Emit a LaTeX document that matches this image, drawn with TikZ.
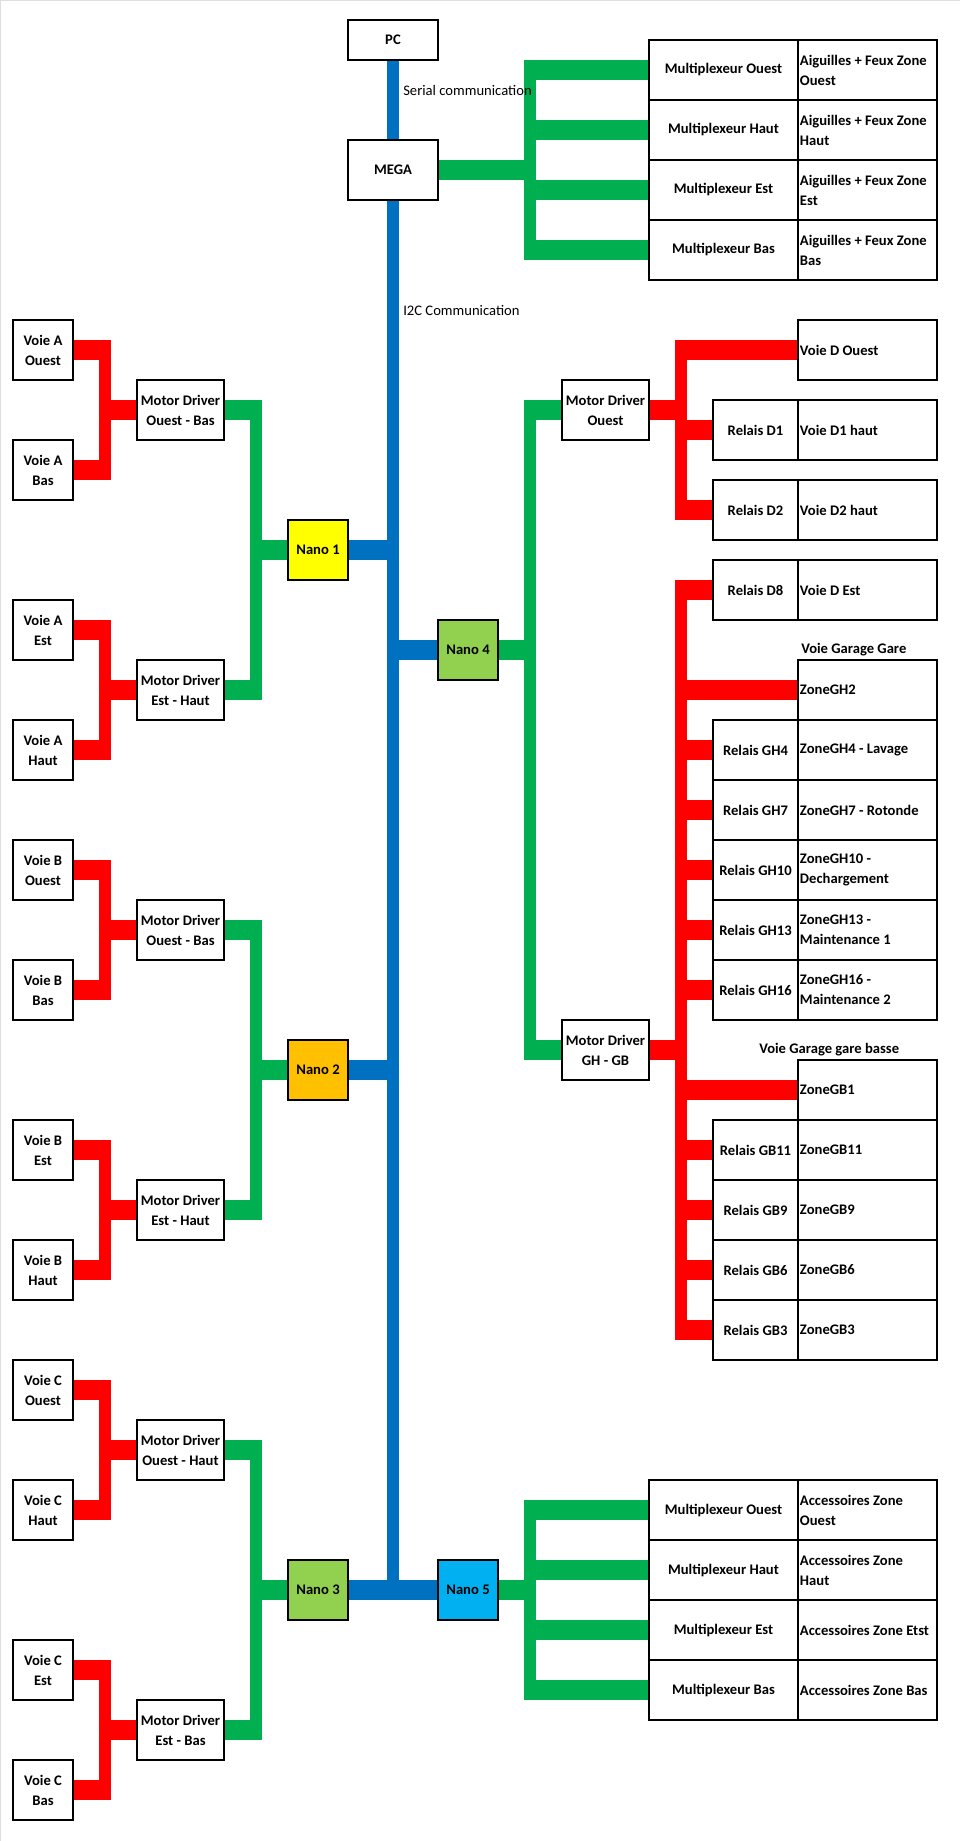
\documentclass[tikz,border=0pt]{standalone}
\usepackage{fontspec}
\setmainfont{Carlito}
\usepackage{tikz}
\usetikzlibrary{backgrounds}
\definecolor{xlblue}{RGB}{0,112,192}
\definecolor{xlgreen}{RGB}{0,176,80}
\definecolor{xlred}{RGB}{255,0,0}
\definecolor{xlyellow}{RGB}{255,255,0}
\definecolor{xlorange}{RGB}{255,192,0}
\definecolor{xllime}{RGB}{146,208,80}
\definecolor{xlcyan}{RGB}{0,176,240}
\tikzset{
  bxW/.style={draw=black, fill=white, minimum width=#1, minimum height=1.5cm,
              align=center, inner sep=2pt, line width=0.8pt},
  bxN/.style={draw=black, fill=#1, minimum width=1.5cm, minimum height=1.5cm,
              align=center, inner sep=2pt, line width=0.8pt},
  bxZ/.style={draw=black, fill=white, text width=3.375cm, inner xsep=0.05cm,
              minimum height=1.5cm, align=flush left, line width=0.8pt},
  lbl/.style={anchor=west, inner sep=0pt},
  rh/.style={draw=xlred,   line width=0.5cm},
  rv/.style={draw=xlred,   line width=0.3cm},
  gh/.style={draw=xlgreen, line width=0.5cm},
  gv/.style={draw=xlgreen, line width=0.3cm},
  bh/.style={draw=xlblue,  line width=0.5cm},
  bv/.style={draw=xlblue,  line width=0.28cm},
  tobus/.style={shorten >=-0.15cm},
  frombus/.style={shorten <=-0.15cm},
  busrun/.style={shorten <=-0.25cm, shorten >=-0.25cm},
}

\begin{document}
\begin{tikzpicture}[x=0.025cm, y=-0.025cm, font=\fontsize{10.4}{14.2}\selectfont\bfseries]
  \useasboundingbox (0,0) rectangle (960,1841);
  \draw[gray!25, line width=0.05cm] (0,1841) -- (0,0) -- (960,0);

  % ── bus lines ───────────────────────────────────────────
  \coordinate (rbL) at (105,0);
  \coordinate (gbL) at (256,0);
  \coordinate (gbR) at (530,0);
  \coordinate (rbR) at (681,0);

  % ── PC / MEGA ───────────────────────────────────────────
  \node[bxW=2.25cm, minimum height=1cm] (pc) at (393,40) {PC};
  \node[bxW=2.25cm] (mega) at (393,170) {MEGA};
  \coordinate (trunk) at (pc.south);
  \node[lbl, font=\fontsize{10.4}{14.2}\selectfont] (serial) at (403,90) {Serial communication};
  \node[lbl, font=\fontsize{10.4}{14.2}\selectfont] (i2c) at (403,310) {I2C Communication};

  % ── multiplexeurs du haut ───────────────────────────────
  \foreach \i/\yy/\side in {1/70/Ouest,2/130/Haut,3/190/Est,4/250/Bas} {
    \node[bxW=3.725cm] (muxT\i) at (723.5,\yy) {Multiplexeur \side};
    \node[bxZ] (aigT\i) at (867.5,\yy) {Aiguilles + Feux Zone\\\side};
    \begin{scope}[on background layer]
      \draw[gh, frombus] (muxT\i.west -| gbR) -- (muxT\i.west);
    \end{scope}
  }
  \begin{scope}[on background layer]
    \draw[bv, shorten >=-0.25cm] (pc.south) -- (pc.south |- 0,1590);
    \draw[gh, tobus] (mega.east) -- (mega.east -| gbR);
    \draw[gv, busrun] (muxT1.west -| gbR) -- (muxT4.west -| gbR);
  \end{scope}

  % ── voies A, B, C (gauche) ──────────────────────────────
  \foreach \g/\n/\yo/\fc/\pb/\mo/\pd/\me in
      {A/1/320/xlyellow/Bas/Ouest - Bas/Haut/Est - Haut,
       B/2/840/xlorange/Bas/Ouest - Bas/Haut/Est - Haut,
       C/3/1360/xllime/Haut/Ouest - Haut/Bas/Est - Bas} {
    \node[bxW=1.5cm] (v1\g) at (43,\yo+30) {Voie \g\\Ouest};
    \node[bxW=1.5cm] (v2\g) at (43,\yo+150) {Voie \g\\\pb};
    \node[bxW=2.175cm] (md1\g) at (180.5,\yo+90) {Motor Driver\\\mo};
    \node[bxN=\fc] (nano\n) at (318,\yo+230) {Nano \n};
    \node[bxW=1.5cm] (v3\g) at (43,\yo+310) {Voie \g\\Est};
    \node[bxW=1.5cm] (v4\g) at (43,\yo+430) {Voie \g\\\pd};
    \node[bxW=2.175cm] (md2\g) at (180.5,\yo+370) {Motor Driver\\\me};
    \begin{scope}[on background layer]
      \foreach \a/\b/\m in {v1/v2/md1, v3/v4/md2} {
        \draw[rh, tobus] (\a\g.east) -- (\a\g.east -| rbL);
        \draw[rh, tobus] (\b\g.east) -- (\b\g.east -| rbL);
        \draw[rv, busrun] (\a\g.east -| rbL) -- (\b\g.east -| rbL);
        \draw[rh, frombus] (\m\g.west -| rbL) -- (\m\g.west);
        \draw[gh, tobus] (\m\g.east) -- (\m\g.east -| gbL);
      }
      \draw[gv, busrun] (md1\g.east -| gbL) -- (md2\g.east -| gbL);
      \draw[gh, frombus] (nano\n.west -| gbL) -- (nano\n.west);
      \draw[bh, tobus] (nano\n.east) -- (nano\n.east -| trunk);
    \end{scope}
  }

  % ── Nano 4 et ses drivers ───────────────────────────────
  \node[bxN=xllime] (nano4) at (468,650) {Nano 4};
  \node[bxW=2.175cm] (mdO) at (605.5,410) {Motor Driver\\Ouest};
  \node[bxW=2.175cm] (mdG) at (605.5,1050) {Motor Driver\\GH - GB};
  \node[bxZ] (zDO) at (867.5,350) {Voie D Ouest};
  \node[bxZ] (zGH2) at (867.5,690) {ZoneGH2};
  \node[bxZ] (zGB1) at (867.5,1090) {ZoneGB1};
  \node[lbl] (vgg) at (801,650) {Voie Garage Gare};
  \node[lbl] (vggb) at (759,1050) {Voie Garage gare basse};
  \foreach \nm/\yy/\zt in {D1/430/Voie D1 haut, D2/510/Voie D2 haut,
      D8/590/Voie D Est, GH4/750/ZoneGH4 - Lavage, GH7/810/ZoneGH7 - Rotonde,
      GH10/870/{ZoneGH10 -\\Dechargement}, GH13/930/{ZoneGH13 -\\Maintenance 1},
      GH16/990/{ZoneGH16 -\\Maintenance 2}, GB11/1150/ZoneGB11,
      GB9/1210/ZoneGB9, GB6/1270/ZoneGB6, GB3/1330/ZoneGB3} {
    \node[bxW=2.125cm] (rel\nm) at (755.5,\yy) {Relais \nm};
    \node[bxZ] (zn\nm) at (867.5,\yy) {\zt};
    \begin{scope}[on background layer]
      \draw[rh, frombus] (rel\nm.west -| rbR) -- (rel\nm.west);
    \end{scope}
  }
  \begin{scope}[on background layer]
    \draw[bh, frombus] (nano4.west -| trunk) -- (nano4.west);
    \draw[gh, tobus] (nano4.east) -- (nano4.east -| gbR);
    \draw[gv, busrun] (mdO.west -| gbR) -- (mdG.west -| gbR);
    \draw[gh, frombus] (mdO.west -| gbR) -- (mdO.west);
    \draw[gh, frombus] (mdG.west -| gbR) -- (mdG.west);
    % haut
    \draw[rh, tobus] (mdO.east) -- (mdO.east -| rbR);
    \draw[rv, busrun] (zDO.west -| rbR) -- (relD2.west -| rbR);
    \draw[rh, frombus] (zDO.west -| rbR) -- (zDO.west);
    % garage
    \draw[rh, tobus] (mdG.east) -- (mdG.east -| rbR);
    \draw[rv, busrun] (relD8.west -| rbR) -- (relGB3.west -| rbR);
    \draw[rh, frombus] (zGH2.west -| rbR) -- (zGH2.west);
    \draw[rh, frombus] (zGB1.west -| rbR) -- (zGB1.west);
  \end{scope}

  % ── Nano 5 et accessoires ───────────────────────────────
  \node[bxN=xlcyan] (nano5) at (468,1590) {Nano 5};
  \foreach \i/\yy/\side/\acc in {1/1510/Ouest/{Accessoires Zone\\Ouest},
      2/1570/Haut/{Accessoires Zone\\Haut}, 3/1630/Est/Accessoires Zone Etst,
      4/1690/Bas/Accessoires Zone Bas} {
    \node[bxW=3.725cm] (muxB\i) at (723.5,\yy) {Multiplexeur \side};
    \node[bxZ] (accB\i) at (867.5,\yy) {\acc};
    \begin{scope}[on background layer]
      \draw[gh, frombus] (muxB\i.west -| gbR) -- (muxB\i.west);
    \end{scope}
  }
  \begin{scope}[on background layer]
    \draw[bh] (nano3.east) -- (nano5.west);
    \draw[gh, tobus] (nano5.east) -- (nano5.east -| gbR);
    \draw[gv, busrun] (muxB1.west -| gbR) -- (muxB4.west -| gbR);
  \end{scope}
\end{tikzpicture}
\end{document}
